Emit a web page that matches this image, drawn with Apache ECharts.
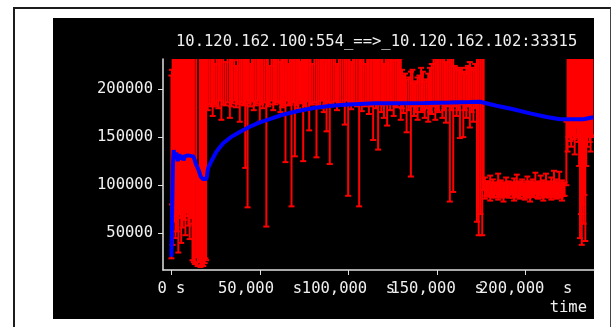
<!DOCTYPE html>
<html>
<head>
<meta charset="utf-8">
<script src="https://cdn.jsdelivr.net/npm/echarts@6/dist/echarts.min.js"></script>
<style>
  html, body { margin: 0; padding: 0; background: #fff; overflow: hidden; }
  #frame { position: absolute; left: 13px; top: 7px; width: 595px; height: 340px;
           border: 2px solid #1c1c1c; border-right: 1px solid #444; }
  #plotbg { position: absolute; left: 53px; top: 18px; width: 541px; height: 301px; background: #000; }
  #chart { position: absolute; left: 0; top: 0; width: 615px; height: 327px; }
</style>
</head>
<body>
<div id="frame"></div>
<div id="plotbg"></div>
<div id="chart"></div>
<script>
const titleText = '10.120.162.100:554_==>_10.120.162.102:33315';
const xTicks = [0, 50000, 100000, 150000, 200000];
// labels split over two axes so neighbouring labels never compete
const xLabelsEven = [0, 100000, 200000];
const xLabelsOdd = [50000, 150000];
const yTicks = [50000, 100000, 150000, 200000];

// error bars [time, low, high]
const startBars = [
    [0, 24000, 214000], [350, 80000, 220000], [700, 38000, 240000], [1100, 76000, 240000],
    [1500, 62000, 240000], [1900, 84000, 240000], [2300, 45000, 245000], [2700, 70000, 240000],
    [3100, 52000, 240000], [3500, 78000, 240000], [3900, 30000, 250000], [4300, 82000, 240000],
    [4700, 70000, 240000], [5100, 66000, 240000], [5500, 40000, 245000], [5900, 74000, 240000],
    [6300, 56000, 240000], [6700, 80000, 240000], [7100, 64000, 245000], [7500, 72000, 240000],
    [7900, 48000, 240000], [8300, 76000, 240000], [8700, 72000, 250000], [9100, 68000, 240000],
    [9500, 58000, 240000], [9900, 80000, 240000], [10300, 44000, 245000], [10700, 74000, 240000],
    [11100, 66000, 240000], [11500, 70000, 240000], [11900, 22000, 240000], [12300, 60000, 240000],
    [12700, 20000, 240000], [13200, 18000, 118000], [14000, 25000, 240000], [14800, 16000, 112000],
    [15600, 20000, 120000], [16000, 30000, 240000], [16400, 15000, 245000], [16800, 28000, 240000],
    [17200, 17000, 240000], [17600, 26000, 240000], [18000, 16000, 250000], [18400, 30000, 240000],
    [18800, 19000, 240000], [19200, 24000, 240000], [19600, 22000, 240000]
];
const highBars = [
    [20500, 178000, 240000], [22500, 182000, 238000], [23300, 172000, 240000], [24500, 184000, 226000],
    [26500, 180000, 240000], [28200, 168000, 240000], [30500, 183000, 228000], [33000, 170000, 240000],
    [34500, 185000, 240000], [36500, 181000, 224000], [38600, 166000, 240000], [40500, 184000, 240000],
    [41700, 118000, 236000], [43000, 77000, 240000], [44500, 182000, 226000], [46500, 178000, 240000],
    [48500, 185000, 240000], [49900, 166000, 232000], [51500, 180000, 240000], [53600, 57000, 240000],
    [55500, 184000, 224000], [57500, 178000, 240000], [59500, 186000, 240000], [61500, 176000, 228000],
    [62500, 181000, 240000], [64400, 124000, 240000], [66000, 183000, 226000], [67800, 78000, 240000],
    [69700, 130000, 240000], [71500, 180000, 240000], [73000, 186000, 228000], [74400, 125000, 240000],
    [76000, 178000, 240000], [77800, 157000, 240000], [79500, 184000, 226000], [81900, 129000, 240000],
    [84000, 180000, 240000], [86000, 176000, 232000], [87600, 156000, 240000], [89400, 122000, 240000],
    [91500, 183000, 240000], [93500, 178000, 226000], [95500, 185000, 240000], [97900, 163000, 240000],
    [99800, 89000, 240000], [101500, 179000, 228000], [103500, 184000, 240000], [106000, 78000, 240000],
    [107500, 177000, 240000], [109500, 182000, 226000], [111500, 174000, 240000], [113900, 147000, 240000],
    [115500, 180000, 234000], [116700, 137000, 240000], [118500, 176000, 240000], [120000, 170000, 226000],
    [121800, 162000, 240000], [123500, 178000, 240000], [125500, 172000, 230000], [127500, 181000, 240000],
    [129500, 168000, 232000], [131000, 175000, 214000], [132800, 155000, 210000], [135200, 109000, 218000],
    [137000, 172000, 206000], [139000, 168000, 212000], [141000, 176000, 222000], [143000, 170000, 208000],
    [145000, 166000, 216000], [147000, 174000, 226000], [149000, 168000, 240000], [151000, 176000, 232000],
    [153000, 170000, 240000], [155000, 165000, 228000], [157200, 83000, 240000], [159100, 93000, 236000],
    [161000, 172000, 222000], [162900, 149000, 220000], [164800, 150000, 218000], [166500, 170000, 222000],
    [168500, 160000, 228000], [170500, 166000, 220000],
    [172500, 62000, 240000], [173500, 48000, 245000], [174500, 70000, 240000], [175500, 48000, 240000],
    [176300, 95000, 240000]
];
const coreBars = [
    [21500, 184000, 240000], [23900, 186000, 232000], [25500, 182000, 240000], [27300, 188000, 240000],
    [29300, 184000, 236000], [31700, 186000, 240000], [33700, 182000, 240000], [35500, 188000, 230000],
    [37500, 184000, 240000], [39500, 186000, 240000], [41000, 183000, 240000], [42300, 188000, 234000],
    [43700, 185000, 240000], [45500, 187000, 240000], [47500, 183000, 240000], [49200, 188000, 240000],
    [50700, 184000, 232000], [52500, 186000, 240000], [54500, 182000, 240000], [56500, 188000, 240000],
    [58500, 184000, 236000], [60500, 187000, 240000], [62000, 185000, 240000], [63500, 183000, 240000],
    [65200, 188000, 240000], [66900, 184000, 232000], [68700, 186000, 240000], [70600, 183000, 240000],
    [72200, 188000, 240000], [73700, 185000, 240000], [75200, 182000, 234000], [76900, 187000, 240000],
    [78600, 184000, 240000], [80700, 186000, 240000], [82900, 183000, 240000], [85000, 188000, 236000],
    [86800, 184000, 240000], [88500, 186000, 240000], [90400, 182000, 240000], [92500, 187000, 240000],
    [94500, 185000, 232000], [96700, 183000, 240000], [98800, 188000, 240000], [100600, 184000, 240000],
    [102500, 186000, 240000], [104700, 182000, 236000], [106700, 187000, 240000], [108500, 184000, 240000],
    [110500, 186000, 240000], [112700, 182000, 232000], [114700, 187000, 240000], [116100, 184000, 240000],
    [117600, 186000, 240000], [119200, 183000, 236000], [120900, 187000, 240000], [122600, 184000, 240000],
    [124500, 186000, 240000], [126500, 182000, 236000], [128500, 186000, 240000], [130200, 180000, 220000],
    [131900, 184000, 216000], [134000, 178000, 212000], [136100, 182000, 220000], [138000, 176000, 208000],
    [140000, 182000, 214000], [142000, 178000, 218000], [144000, 180000, 210000], [146000, 176000, 222000],
    [148000, 182000, 232000], [150000, 178000, 240000], [152000, 184000, 236000], [154000, 178000, 240000],
    [156100, 182000, 232000], [158100, 178000, 240000], [160000, 182000, 224000], [162000, 178000, 220000],
    [163800, 184000, 222000], [165600, 178000, 216000], [167500, 182000, 224000], [169500, 176000, 222000],
    [171500, 180000, 226000]
];
const lowBars = [
    [177000, 86000, 108000], [177750, 89000, 104000], [178500, 90000, 104000], [179250, 88000, 102000],
    [180000, 84000, 110000], [180750, 90000, 103000], [181500, 88000, 106000], [182250, 87000, 102000],
    [183000, 91000, 103000], [183750, 88000, 101000], [184500, 85000, 112000], [185250, 89000, 104000],
    [186000, 89000, 105000], [186750, 87000, 100000], [187500, 83000, 102000], [188250, 89000, 103000],
    [189000, 90000, 108000], [189750, 88000, 102000], [190500, 87000, 104000], [191250, 90000, 101000],
    [192000, 92000, 101000], [192750, 87000, 103000], [193500, 84000, 107000], [194250, 89000, 102000],
    [195000, 88000, 111000], [195750, 88000, 104000], [196500, 86000, 103000], [197250, 90000, 102000],
    [198000, 90000, 106000], [198750, 87000, 101000], [199500, 85000, 102000], [200250, 89000, 104000],
    [201000, 89000, 109000], [201750, 87000, 103000], [202500, 83000, 104000], [203250, 90000, 102000],
    [204000, 88000, 106000], [204750, 88000, 103000], [205500, 91000, 113000], [206250, 87000, 102000],
    [207000, 86000, 103000], [207750, 90000, 104000], [208500, 89000, 110000], [209250, 87000, 102000],
    [210000, 84000, 105000], [210750, 89000, 103000], [211500, 90000, 112000], [212250, 88000, 102000],
    [213000, 87000, 104000], [213750, 90000, 103000], [214500, 85000, 108000], [215250, 88000, 101000],
    [216000, 89000, 115000], [216750, 87000, 104000], [217500, 86000, 106000], [218250, 90000, 102000],
    [219000, 88000, 114000], [219750, 87000, 103000], [220500, 84000, 105000], [221250, 89000, 102000],
    [222000, 89000, 103000]
];
const tailBars = [
    [223000, 100000, 166000], [223700, 135000, 240000], [224200, 150000, 240000], [224700, 150000, 240000],
    [225200, 146000, 240000], [225700, 140000, 238000], [226200, 152000, 240000], [226700, 158000, 240000],
    [227200, 148000, 240000], [227700, 132000, 240000], [228200, 150000, 240000], [228700, 160000, 236000],
    [229200, 152000, 240000], [229700, 145000, 240000], [230200, 120000, 240000], [230700, 45000, 240000],
    [231200, 70000, 240000], [231700, 38000, 245000], [232200, 80000, 240000], [232700, 60000, 240000],
    [233200, 90000, 240000], [233700, 42000, 240000], [234200, 120000, 240000], [234700, 140000, 240000],
    [235200, 150000, 240000], [235700, 155000, 238000], [236200, 145000, 240000], [236700, 135000, 240000],
    [237200, 152000, 240000], [237700, 150000, 240000]
];

// running average [time, value]
const avgLine = [
    [0, 25700], [565, 89800], [900, 121000], [1300, 136600], [2000, 128000], [2800, 134000],
    [3600, 125000], [4400, 132000], [5200, 127000], [6000, 131000], [6800, 126000], [7600, 130000],
    [8400, 128000], [9200, 131000], [10000, 129000], [10800, 130500], [11600, 129500], [12400, 130000],
    [13200, 126000], [13700, 122700], [15600, 114800], [16500, 109000], [17700, 106400], [19800, 106400],
    [20700, 117600], [22600, 125200], [25400, 134800], [29200, 143600], [33900, 150400], [39600, 156300],
    [44200, 160800], [49900, 165400], [55500, 168800], [62200, 173000], [71500, 177100], [81000, 180600],
    [90400, 182600], [99800, 184000], [109200, 184700], [114900, 185100], [129000, 185300], [143100, 185500],
    [157200, 186000], [168500, 186500], [174200, 186800], [183600, 182600], [193000, 178900], [202500, 174700],
    [211900, 170900], [219400, 168500], [226900, 168500], [232600, 168500], [238200, 170600]
];

const monoFont = 'DejaVu Sans Mono';
const textColor = '#f0f0f0';
const axisColor = '#e0e0e0';
const xMin = -4750;
const xMax = 238600;

function fmtTime(v) {
    if (v === 0) return '0 s';
    return String(v).replace(/\B(?=(\d{3})+(?!\d))/g, ',') + '  s';
}

function renderBar(params, api) {
    const t = api.value(0);
    const lo = api.coord([t, api.value(1)]);
    const hi = api.coord([t, api.value(2)]);
    const cap = 3;
    const st = { stroke: '#ff0000', lineWidth: 2 };
    return {
        type: 'group',
        children: [
            { type: 'line', shape: { x1: lo[0], y1: lo[1], x2: hi[0], y2: hi[1] }, style: st },
            { type: 'line', shape: { x1: lo[0] - cap, y1: lo[1], x2: lo[0] + cap, y2: lo[1] }, style: st },
            { type: 'line', shape: { x1: hi[0] - cap, y1: hi[1], x2: hi[0] + cap, y2: hi[1] }, style: st }
        ]
    };
}

function barSeries(data) {
    return {
        type: 'custom',
        renderItem: renderBar,
        clip: true,
        encode: { x: 0, y: [1, 2] },
        data: data,
        z: 2
    };
}

function xLabelStyle(values) {
    return {
        customValues: values,
        formatter: fmtTime,
        hideOverlap: false,
        showMinLabel: true,
        showMaxLabel: true,
        margin: 11,
        color: textColor,
        fontFamily: monoFont,
        fontSize: 15.5
    };
}

const myChart = echarts.init(document.getElementById('chart'));
myChart.setOption({
    animation: false,
    backgroundColor: 'transparent',
    title: {
        text: titleText,
        left: 176,
        top: 34,
        padding: 0,
        textStyle: { color: textColor, fontFamily: monoFont, fontSize: 15.5, fontWeight: 'normal' }
    },
    grid: { left: 163, top: 59, right: 21, bottom: 57 },
    xAxis: [
        {
            type: 'value',
            position: 'bottom',
            min: xMin,
            max: xMax,
            axisLine: { onZero: false, lineStyle: { color: axisColor, width: 1.5 } },
            axisTick: { customValues: xTicks, length: 5, lineStyle: { color: axisColor } },
            axisLabel: xLabelStyle(xLabelsEven),
            splitLine: { show: false }
        },
        {
            type: 'value',
            position: 'bottom',
            min: xMin,
            max: xMax,
            axisLine: { show: false, onZero: false },
            axisTick: { show: false },
            axisLabel: xLabelStyle(xLabelsOdd),
            splitLine: { show: false }
        }
    ],
    yAxis: {
        type: 'value',
        min: 11850,
        max: 231200,
        axisLine: { show: true, onZero: false, lineStyle: { color: axisColor, width: 1.5 } },
        axisTick: { show: true, customValues: yTicks, length: 5, lineStyle: { color: axisColor } },
        axisLabel: {
            customValues: yTicks,
            formatter: function (v) { return String(v); },
            showMinLabel: true,
            showMaxLabel: true,
            margin: 10,
            color: textColor,
            fontFamily: monoFont,
            fontSize: 15.5
        },
        splitLine: { show: false }
    },
    graphic: [
        {
            type: 'text',
            right: 28,
            top: 300,
            style: { text: 'time', fill: textColor, font: '15.5px "DejaVu Sans Mono"' }
        }
    ],
    series: [
        barSeries(startBars),
        barSeries(highBars),
        barSeries(coreBars),
        barSeries(lowBars),
        barSeries(tailBars),
        {
            type: 'line',
            data: avgLine,
            symbol: 'none',
            clip: true,
            lineStyle: { color: '#0000ff', width: 4 },
            z: 3
        }
    ]
});
</script>
</body>
</html>
